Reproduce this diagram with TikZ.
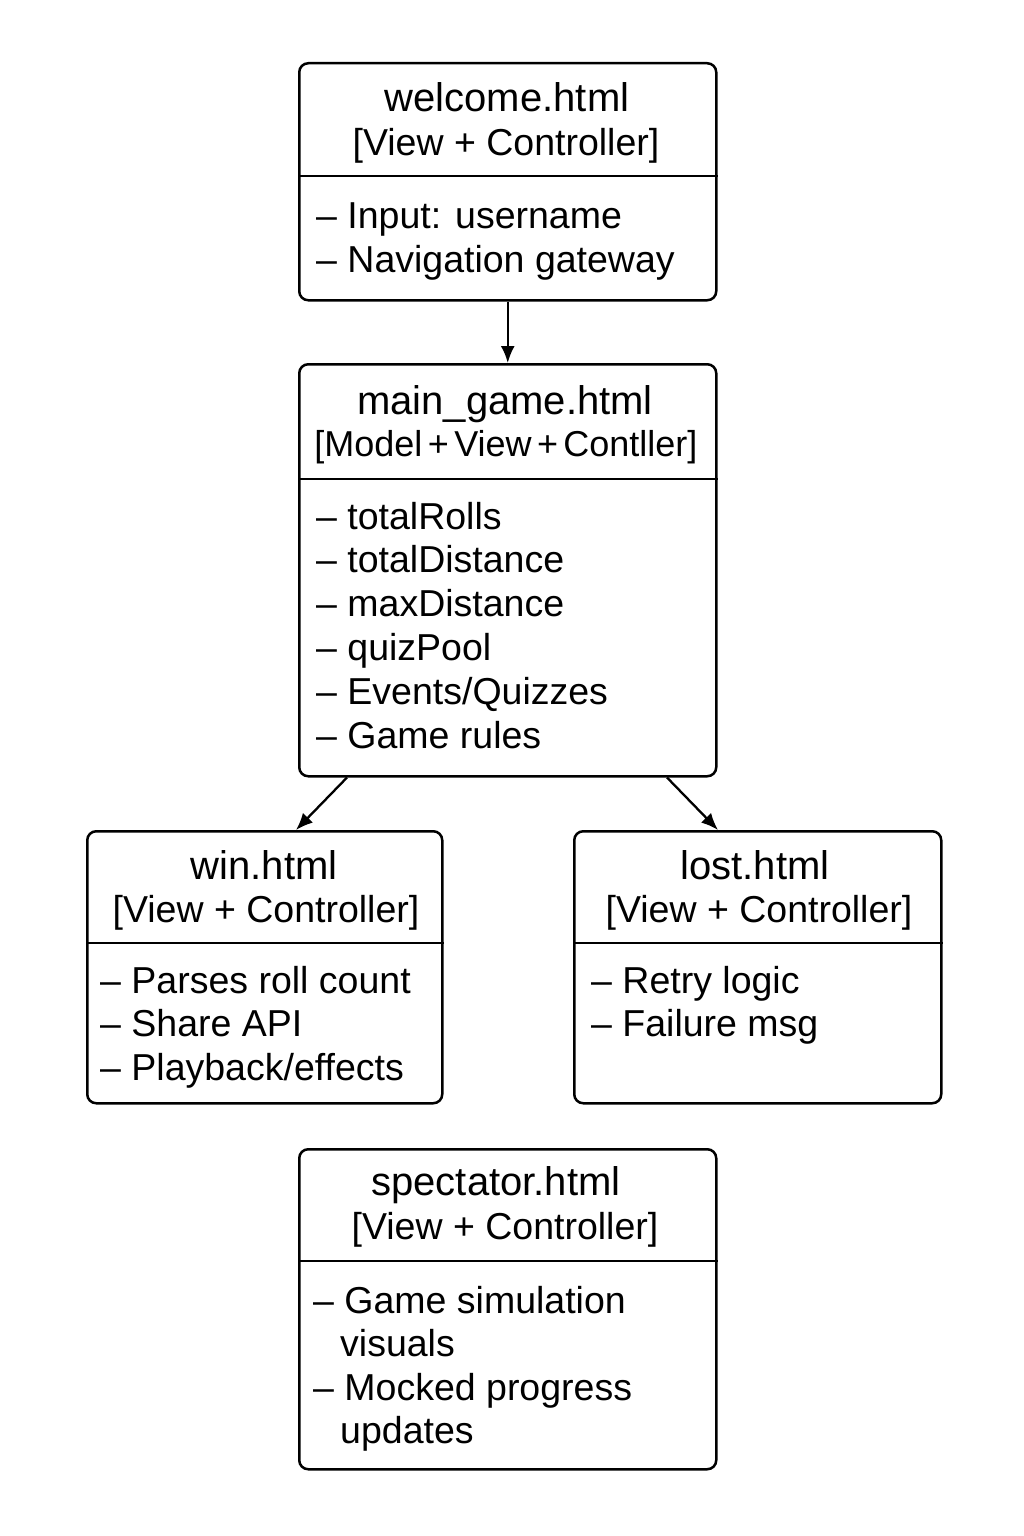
\documentclass[tikz,border=0pt]{standalone}
\usepackage{fontspec}
\setmainfont{Liberation Sans}
\usetikzlibrary{arrows.meta,calc}
\begin{document}
\begin{tikzpicture}[x=1pt,y=-1pt,
 box/.style={draw,line width=2.5pt,rounded corners=9pt,anchor=north west,inner sep=0pt},
 divider/.style={line width=2.5pt},
 ttl/.style={anchor=base,font=\fontsize{40}{44}\selectfont,inner sep=0pt},
 sub/.style={anchor=base,font=\fontsize{37.5}{44}\selectfont,inner sep=0pt},
 itm/.style={anchor=base west,font=\fontsize{37.5}{44}\selectfont,inner sep=0pt},
 conn/.style={line width=2.3pt,-{Latex[length=17pt,width=14pt]}}]
\useasboundingbox[fill=white] (0,0) rectangle (1024,1536);

% welcome
\node[box,minimum width=417pt,minimum height=237pt] (welcome) at (298,62) {};
\draw[divider] (welcome.west |- 0,176) -- (welcome.east |- 0,176);
\node[ttl] (welcomeT) at (507,112) {welcome.html};
\node[sub] (welcomeS) at (506,155) {[View + Controller]};
\node[itm] (welcomeA) at (316,228) {– Input: username};
\node[itm] (welcomeB) at (316,272) {– Navigation gateway};

% main_game
\node[box,minimum width=417pt,minimum height=412pt] (main) at (298,363) {};
\draw[divider] (main.west |- 0,479) -- (main.east |- 0,479);
\node[ttl] (mainT) at (505,414) {main\_game.html};
\node[sub,font=\fontsize{36}{44}\selectfont] (mainS) at (506,456) {\spaceskip=0.15em [Model + View + Contller]};
\node[itm] (mainA) at (316,529) {– totalRolls};
\node[itm] (mainB) at (316,572) {– totalDistance};
\node[itm] (mainC) at (316,616) {– maxDistance};
\node[itm] (mainD) at (316,660) {– quizPool};
\node[itm] (mainE) at (316,704) {– Events/Quizzes};
\node[itm] (mainF) at (316,748) {– Game rules};

% win
\node[box,minimum width=355pt,minimum height=272pt] (win) at (86,830) {};
\draw[divider] (win.west |- 0,943) -- (win.east |- 0,943);
\node[ttl] (winT) at (264,879) {win.html};
\node[sub] (winS) at (266,922) {[View + Controller]};
\node[itm] (winA) at (100,993) {– Parses roll count};
\node[itm] (winB) at (100,1036) {– Share API};
\node[itm] (winC) at (100,1080) {– Playback/effects};

% lost
\node[box,minimum width=367pt,minimum height=272pt] (lost) at (573,830) {};
\draw[divider] (lost.west |- 0,943) -- (lost.east |- 0,943);
\node[ttl] (lostT) at (755,879) {lost.html};
\node[sub] (lostS) at (759,922) {[View + Controller]};
\node[itm] (lostA) at (591,993) {– Retry logic};
\node[itm] (lostB) at (591,1036) {– Failure msg};

% spectator
\node[box,minimum width=417pt,minimum height=320pt] (spec) at (298,1148) {};
\draw[divider] (spec.west |- 0,1261) -- (spec.east |- 0,1261);
\node[ttl] (specT) at (496,1195) {spectator.html};
\node[sub] (specS) at (505,1239) {[View + Controller]};
\node[itm] (specA) at (313,1313) {– Game simulation};
\node[itm] (specB) at (340,1356) {visuals};
\node[itm] (specC) at (313,1400) {– Mocked progress};
\node[itm] (specD) at (340,1443) {updates};

% connectors
\draw[conn] (welcome.south) -- (main.north);
\draw[conn] ([xshift=49pt]main.south west) -- ([xshift=210pt]win.north west);
\draw[conn] ([xshift=369pt]main.south west) -- ([xshift=145pt]lost.north west);
\end{tikzpicture}
\end{document}
